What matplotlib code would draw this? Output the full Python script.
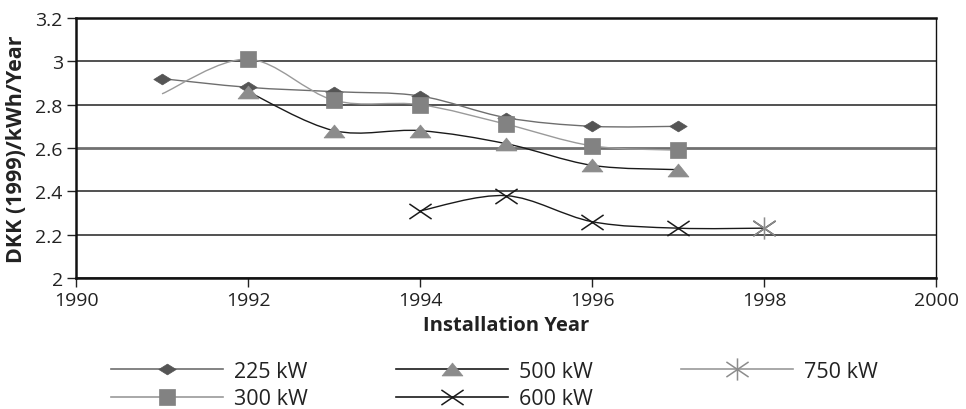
import numpy as np
import matplotlib
matplotlib.use('Agg')
import matplotlib.pyplot as plt
from matplotlib.path import Path
from matplotlib.patches import PathPatch
from matplotlib.lines import Line2D

plt.rcParams['font.family'] = ['Open Sans', 'DejaVu Sans']

# ---- data ----
years_225 = [1991, 1992, 1993, 1994, 1995, 1996, 1997]
kw225 = [2.92, 2.88, 2.86, 2.84, 2.74, 2.70, 2.70]
years_300 = [1991, 1992, 1993, 1994, 1995, 1996, 1997]
kw300 = [2.85, 3.01, 2.82, 2.80, 2.71, 2.61, 2.59]
years_500 = [1992, 1993, 1994, 1995, 1996, 1997]
kw500 = [2.86, 2.68, 2.68, 2.62, 2.52, 2.50]
years_600 = [1994, 1995, 1996, 1997, 1998]
kw600 = [2.31, 2.38, 2.26, 2.23, 2.23]
years_750 = [1998]
kw750 = [2.23]

labels = ['225 kW', '300 kW', '500 kW', '600 kW', '750 kW']
xticks = [1990, 1992, 1994, 1996, 1998, 2000]
yticks = [2.0, 2.2, 2.4, 2.6, 2.8, 3.0, 3.2]
ytick_labels = ['2', '2.2', '2.4', '2.6', '2.8', '3', '3.2']

# ---- markers ----
diamond = Path([(-1, 0), (0, 0.62), (1, 0), (0, -0.62), (-1, 0)],
               [Path.MOVETO, Path.LINETO, Path.LINETO, Path.LINETO, Path.CLOSEPOLY])
tri = Path([(-1, -0.62), (0, 0.62), (1, -0.62), (-1, -0.62)],
           [Path.MOVETO, Path.LINETO, Path.LINETO, Path.CLOSEPOLY])
xmark = Path([(-1, -0.68), (1, 0.68), (-1, 0.68), (1, -0.68)],
             [Path.MOVETO, Path.LINETO, Path.MOVETO, Path.LINETO])
astmark = Path([(-1, -0.68), (1, 0.68), (-1, 0.68), (1, -0.68), (0, -1), (0, 1)],
               [Path.MOVETO, Path.LINETO, Path.MOVETO, Path.LINETO, Path.MOVETO, Path.LINETO])


def smooth_path(x, y):
    pts = np.column_stack([x, y]).astype(float)
    n = len(pts)
    verts = [pts[0]]
    codes = [Path.MOVETO]
    for i in range(n - 1):
        pm = pts[max(i - 1, 0)]
        p0 = pts[i]
        p1 = pts[i + 1]
        p2 = pts[min(i + 2, n - 1)]
        c1 = p0 + (p1 - pm) / 6.0
        c2 = p1 - (p2 - p0) / 6.0
        verts += [c1, c2, p1]
        codes += [Path.CURVE4] * 3
    return Path(verts, codes)


fig = plt.figure(figsize=(9.66, 4.10), dpi=100)
ax = fig.add_axes([0.0787, 0.3195, 0.8903, 0.6342])

series = [
    (years_225, kw225, '#6e6e6e', diamond, '#555555', 12.5, True, 0),
    (years_300, kw300, '#9a9a9a', 's', '#828282', 11, True, 1),
    (years_500, kw500, '#1a1a1a', tri, '#8c8c8c', 15, True, 0),
    (years_600, kw600, '#1a1a1a', xmark, '#1a1a1a', 16, False, 0),
    (years_750, kw750, '#9a9a9a', astmark, '#8c8c8c', 16, False, 0),
]

handles = []
for (xs, ys, lc, mk, mc, ms, filled, skip), lab in zip(series, labels):
    if len(xs) > 1:
        ax.add_patch(PathPatch(smooth_path(xs, ys), fill=False, edgecolor=lc,
                               lw=1.0, zorder=3))
    mx = xs[skip:]
    my = ys[skip:]
    if filled:
        ax.plot(mx, my, linestyle='none', marker=mk, markersize=ms,
                markerfacecolor=mc, markeredgecolor=mc, markeredgewidth=0.5, zorder=4)
        h = Line2D([], [], color=lc, lw=1.2, marker=mk, markersize=ms,
                   markerfacecolor=mc, markeredgecolor=mc, markeredgewidth=0.5)
    else:
        ax.plot(mx, my, linestyle='none', marker=mk, markersize=ms,
                markerfacecolor='none', markeredgecolor=mc, markeredgewidth=1.1, zorder=4)
        h = Line2D([], [], color=lc, lw=1.2, marker=mk, markersize=ms,
                   markerfacecolor='none', markeredgecolor=mc, markeredgewidth=1.1)
    handles.append(h)

ax.set_xlim(1990, 2000)
ax.set_ylim(2.0, 3.2)
ax.set_xticks(xticks)
ax.set_xticklabels([str(t) for t in xticks])
ax.set_yticks(yticks)
ax.set_yticklabels(ytick_labels)
ax.yaxis.grid(True, color='#222222', lw=1.1)
gl = ax.yaxis.get_gridlines()
gl[3].set_color('#707070')
gl[3].set_linewidth(2.0)
ax.set_axisbelow(True)
for name, s in ax.spines.items():
    s.set_color('#111111')
    s.set_linewidth(1.0 if name == 'right' else 1.8)
ax.tick_params(direction='out', length=6.5, width=1.0, color='#222222',
               labelsize=14, pad=3, labelcolor='#222222')

ax.set_xlabel('Installation Year', fontsize=14.5, fontweight='bold', labelpad=4,
              color='#222222')
ax.set_ylabel('DKK (1999)/kWh/Year', fontsize=15.5, fontweight='bold', labelpad=6,
              color='#222222')

fig.legend(handles=handles, labels=labels, ncol=3, loc='center',
           bbox_to_anchor=(0.512, 0.058), frameon=False, fontsize=15.5,
           handlelength=5.2, handletextpad=0.5, columnspacing=4.1,
           labelspacing=0.3, labelcolor='#222222')

fig.savefig('out.png', dpi=100)
